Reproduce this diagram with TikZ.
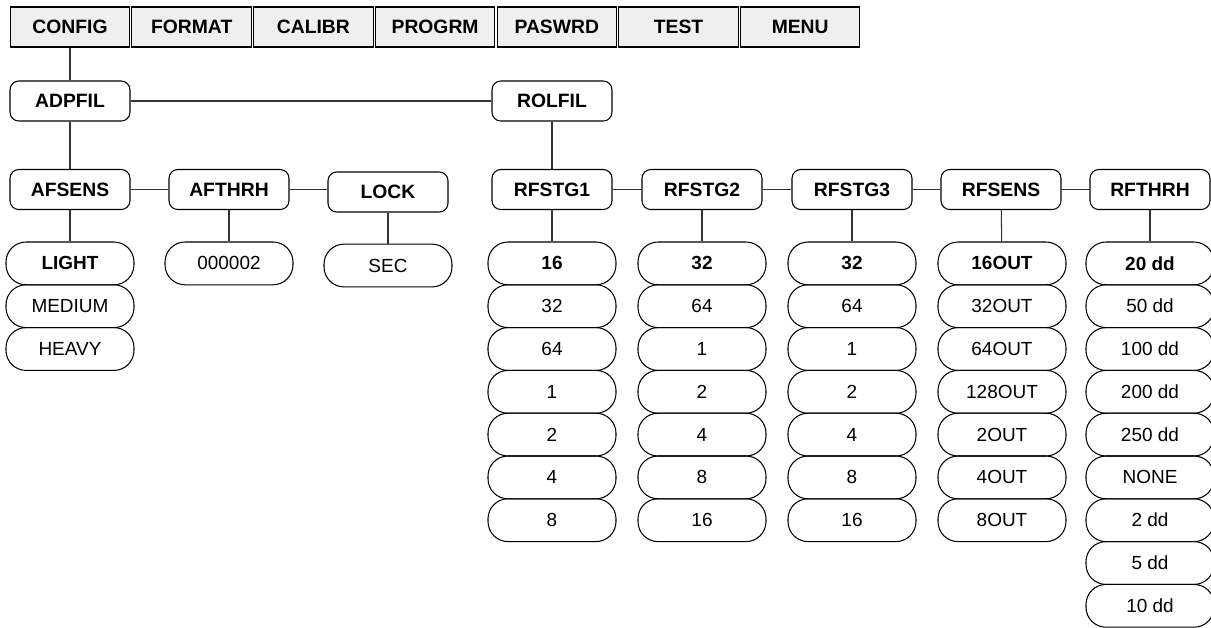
\documentclass[tikz,border=0pt]{standalone}
\usepackage{fontspec}
\setmainfont{Liberation Sans}
\usepackage{xcolor}
\usetikzlibrary{positioning}
\definecolor{menugray}{HTML}{EFEFEF}
\definecolor{linegray}{HTML}{333333}
\tikzset{
  menubox/.style={draw=black,fill=menugray,minimum width=2.39cm,minimum height=0.8cm,inner sep=0pt,font=\bfseries\fontsize{11}{13}\selectfont},
  parm/.style={draw=black,rounded corners=5pt,minimum width=2.4cm,minimum height=0.8cm,inner sep=0pt,font=\bfseries\fontsize{11}{13}\selectfont},
  val/.style={draw=black,rounded corners=0.4cm,minimum width=2.56cm,minimum height=0.856cm,inner sep=0pt,font=\fontsize{10.8}{12}\selectfont},
  dflt/.style={val,font=\bfseries\fontsize{10.8}{12}\selectfont},
  ln/.style={draw=linegray,line width=0.6pt},
}

\begin{document}
\begin{tikzpicture}[x=0.02cm,y=-0.02cm,line width=0.6pt]
  \useasboundingbox (0,0) rectangle (1211,627);
  % menu bar
  \foreach \name/\lbl [count=\i from 0] in {config/CONFIG,format/FORMAT,calibr/CALIBR,progrm/PROGRM,paswrd/PASWRD,test/TEST,menu/MENU}
     \node[menubox] (\name) at ({70+121.7*\i},27) {\lbl};
  % filter level
  \node[parm] (adpfil) at (70,101) {ADPFIL};
  \node[parm] (rolfil) at (552,101) {ROLFIL};
  \draw[ln] (config) -- (adpfil);
  \draw[ln] (adpfil) -- (rolfil);
  % adaptive filter
  \node[parm] (afsens) at (70,189.5) {AFSENS};
  \node[parm] (afthrh) at (229,189.5) {AFTHRH};
  \node[parm] (lock) at (388,192) {LOCK};
  \draw[ln] (adpfil) -- (afsens);
  \draw[ln] (afsens) -- (afthrh);
  \draw[ln] (afthrh.east) -- (afthrh.east -| lock.west);
  \node[dflt] (light) at (70,263.4) {LIGHT};
  \node[val] (medium) at (70,306.2) {MEDIUM};
  \node[val] (heavy) at (70,349) {HEAVY};
  \node[val] (afthrhval) at (229,263.4) {000002};
  \node[val] (sec) at (388,265.5) {SEC};
  \draw[ln] (afsens) -- (light);
  \draw[ln] (afthrh) -- (afthrhval);
  \draw[ln] (lock) -- (sec);
  % rolling filter
  \foreach \col/\lbl/\x in {rfstg1/RFSTG1/552,rfstg2/RFSTG2/702,rfstg3/RFSTG3/852,rfsens/RFSENS/1001,rfthrh/RFTHRH/1150}
     \node[parm] (\col) at (\x,189.5) {\lbl};
  \draw[ln] (rolfil) -- (rfstg1);
  \draw[ln] (rfstg1) -- (rfstg2) -- (rfstg3) -- (rfsens) -- (rfthrh);
  \foreach \col/\x/\lst in {rfstg1/552/{16,32,64,1,2,4,8},rfstg2/702/{32,64,1,2,4,8,16},rfstg3/852/{32,64,1,2,4,8,16},rfsens/1002/{16OUT,32OUT,64OUT,128OUT,2OUT,4OUT,8OUT},rfthrh/1150/{20 dd,50 dd,100 dd,200 dd,250 dd,NONE,2 dd,5 dd,10 dd}} {
     \foreach \v [count=\k] in \lst {
        \ifnum\k=1 \def\sty{dflt}\else\def\sty{val}\fi
        \node[\sty] (\col-\k) at (\x,{263.4+42.8*(\k-1)}) {\v};
     }
     \draw[ln] (\col) -- (\col-1);
  }
\end{tikzpicture}
\end{document}
